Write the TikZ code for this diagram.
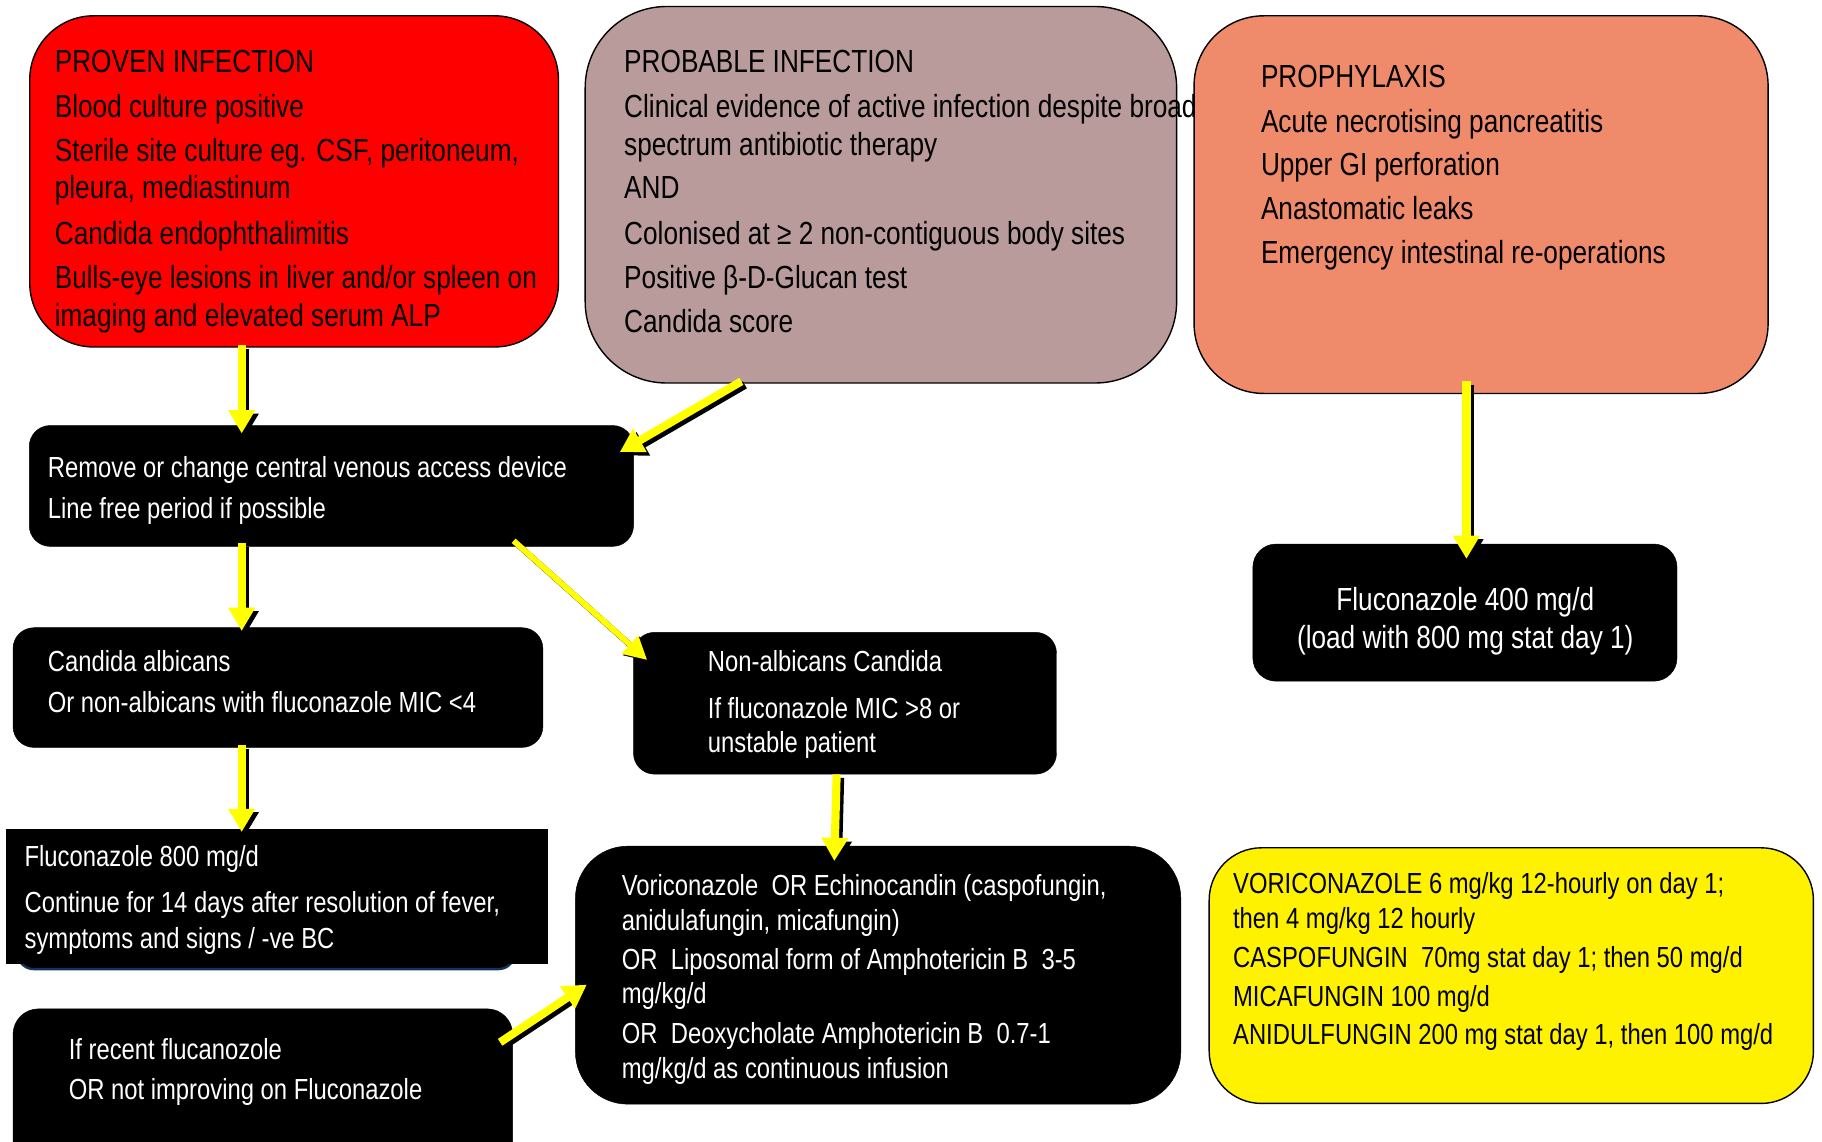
\documentclass[tikz,border=0pt]{standalone}
\usepackage{fontspec}
\setmainfont{Liberation Sans}[FakeStretch=0.82]
\usetikzlibrary{arrows.meta}
\definecolor{provred}{RGB}{255,0,0}
\definecolor{probmauve}{RGB}{185,155,155}
\definecolor{prophsalmon}{RGB}{239,139,106}
\definecolor{navyedge}{RGB}{20,50,95}
\definecolor{arryellow}{RGB}{255,255,0}
\tikzset{
  box/.style={draw=black, line width=1.2pt, anchor=north west, inner sep=0pt},
  blackbox/.style={fill=black, draw=black, anchor=north west, inner sep=0pt, rounded corners=18pt},
  big/.style={anchor=base west, inner sep=0pt, font=\fontsize{27.5}{33}\selectfont},
  small/.style={anchor=base west, inner sep=0pt, font=\fontsize{25}{30}\selectfont},
  wt/.style={text=white},
  tip/.style={-{Triangle[width=22pt,length=20pt]}},
  arr/.style={draw=arryellow, line width=7pt, tip},
  arrshadow/.style={draw=black, line width=7pt, tip, transform canvas={shift={(3pt,-3pt)}}},
  thinarr/.style={draw=arryellow, line width=5pt, -{Triangle[width=20pt,length=20pt]}},
  thinshadow/.style={draw=black, line width=5pt, -{Triangle[width=20pt,length=20pt]}, transform canvas={shift={(1.2pt,-1.2pt)}}},
}
\begin{document}
\begin{tikzpicture}[x=1pt,y=-1pt]
\useasboundingbox[fill=white] (0,0) rectangle (1568,982);

% ---------- boxes ----------
\node[box, fill=provred, rounded corners=55pt, minimum width=455pt, minimum height=285pt] (proven) at (25,13) {};
\node[box, fill=probmauve, rounded corners=70pt, minimum width=509pt, minimum height=324pt] (probable) at (503,5) {};
\node[box, fill=prophsalmon, rounded corners=60pt, minimum width=494pt, minimum height=325pt] (prophy) at (1027,13) {};
\node[blackbox, minimum width=520pt, minimum height=104pt] (remove) at (25,366) {};
\node[blackbox, minimum width=456pt, minimum height=103pt] (candida) at (11,540) {};
\node[blackbox, minimum width=364pt, minimum height=122pt] (nonalb) at (545,544) {};
\node[blackbox, rounded corners=20pt, minimum width=365pt, minimum height=118pt] (fluc400) at (1078,468) {};
\node[blackbox, draw=navyedge, line width=2pt, rounded corners=14pt, minimum width=428pt, minimum height=113pt] (fl800back) at (14,720) {};
\node[blackbox, rounded corners=0pt, minimum width=466pt, minimum height=116pt] (fl800) at (5,713) {};
\node[blackbox, rounded corners=22pt, minimum width=430pt, minimum height=140pt] (recent) at (11,868) {};
\node[blackbox, rounded corners=45pt, minimum width=521pt, minimum height=222pt] (vori) at (495,728) {};
\node[box, fill=yellow, rounded corners=45pt, minimum width=520pt, minimum height=220pt] (dosing) at (1040,729) {};

% ---------- texts ----------
\node[big] (pv1) at (47,62) {PROVEN INFECTION};
\node[big] (pv2) at (47,101) {Blood culture positive};
\node[big] (pv3) at (47,139) {Sterile site culture eg. CSF, peritoneum,};
\node[big] (pv4) at (47,171) {pleura, mediastinum};
\node[big] (pv5) at (47,210) {Candida endophthalimitis};
\node[big] (pv6) at (47,248) {Bulls-eye lesions in liver and/or spleen on};
\node[big] (pv7) at (47,281) {imaging and elevated serum ALP};

\node[big] (pb1) at (537,62) {PROBABLE INFECTION};
\node[big] (pb2) at (537,101) {Clinical evidence of active infection despite broad};
\node[big] (pb3) at (537,134) {spectrum antibiotic therapy};
\node[big] (pb4) at (537,171) {AND};
\node[big] (pb5) at (537,210) {Colonised at ≥ 2 non-contiguous body sites};
\node[big] (pb6) at (537,248) {Positive β-D-Glucan test};
\node[big] (pb7) at (537,286) {Candida score};

\node[big] (pp1) at (1085,75) {PROPHYLAXIS};
\node[big] (pp2) at (1085,114) {Acute necrotising pancreatitis};
\node[big] (pp3) at (1085,151) {Upper GI perforation};
\node[big] (pp4) at (1085,189) {Anastomatic leaks};
\node[big] (pp5) at (1085,227) {Emergency intestinal re-operations};

\node[small, wt] (rm1) at (41,411) {Remove or change central venous access device};
\node[small, wt] (rm2) at (41,446) {Line free period if possible};

\node[small, wt] (ca1) at (41,578) {Candida albicans};
\node[small, wt] (ca2) at (41,613) {Or non-albicans with fluconazole MIC <4};

\node[small, wt] (na1) at (609,578) {Non-albicans Candida};
\node[small, wt] (na2) at (609,618) {If fluconazole MIC >8 or};
\node[small, wt] (na3) at (609,648) {unstable patient};

\node[big, wt, anchor=base] (f41) at (1261,525) {Fluconazole 400 mg/d};
\node[big, wt, anchor=base] (f42) at (1261,558) {(load with 800 mg stat day 1)};

\node[small, wt] (f81) at (21,746) {Fluconazole 800 mg/d};
\node[small, wt] (f82) at (21,785) {Continue for 14 days after resolution of fever,};
\node[small, wt] (f83) at (21,816) {symptoms and signs / -ve BC};

\node[small, wt] (rc1) at (59,912) {If recent flucanozole};
\node[small, wt] (rc2) at (59,946) {OR not improving on Fluconazole};

\node[small, wt] (vo1) at (535,771) {Voriconazole\ \ OR Echinocandin (caspofungin,};
\node[small, wt] (vo2) at (535,801) {anidulafungin, micafungin)};
\node[small, wt] (vo3) at (535,834) {OR\ \ Liposomal form of Amphotericin B\ \ 3-5};
\node[small, wt] (vo4) at (535,864) {mg/kg/d};
\node[small, wt] (vo5) at (535,898) {OR\ \ Deoxycholate Amphotericin B\ \ 0.7-1};
\node[small, wt] (vo6) at (535,928) {mg/kg/d as continuous infusion};

\node[small] (ds1) at (1061,769) {VORICONAZOLE 6 mg/kg 12-hourly on day 1;};
\node[small] (ds2) at (1061,799) {then 4 mg/kg 12 hourly};
\node[small] (ds3) at (1061,833) {CASPOFUNGIN\ \ 70mg stat day 1; then 50 mg/d};
\node[small] (ds4) at (1061,866) {MICAFUNGIN 100 mg/d};
\node[small] (ds5) at (1061,899) {ANIDULFUNGIN 200 mg stat day 1, then 100 mg/d};

% ---------- connectors (shadow first, then yellow) ----------
\foreach \s in {arrshadow,arr}{
  \draw[\s] ([xshift=183pt,yshift=2pt]proven.south west) -- ([xshift=183pt,yshift=-7pt]remove.north west);
  \draw[\s] ([xshift=135pt,yshift=2pt]probable.south west) -- ([xshift=-12pt,yshift=-23pt]remove.north east);
  \draw[\s] ([xshift=235pt,yshift=11pt]prophy.south west) -- ([xshift=184pt,yshift=-13pt]fluc400.north west);
  \draw[\s] ([xshift=183pt,yshift=3pt]remove.south west) -- ([xshift=197pt,yshift=-3pt]candida.north west);
  \draw[\s] ([xshift=197pt,yshift=2pt]candida.south west) -- ([xshift=203pt,yshift=-3pt]fl800.north west);
  \draw[\s] ([xshift=175pt]nonalb.south west) -- ([xshift=223pt,yshift=-13pt]vori.north west);
  \draw[\s] ([xshift=-11pt,yshift=-29pt]recent.north east) -- ([xshift=10pt,yshift=103pt]vori.south west);
}
\draw[thinshadow] ([xshift=417pt,yshift=5pt]remove.south west) -- ([xshift=12pt,yshift=-24pt]nonalb.north west);
\draw[thinarr] ([xshift=417pt,yshift=5pt]remove.south west) -- ([xshift=12pt,yshift=-24pt]nonalb.north west);
\end{tikzpicture}
\end{document}
